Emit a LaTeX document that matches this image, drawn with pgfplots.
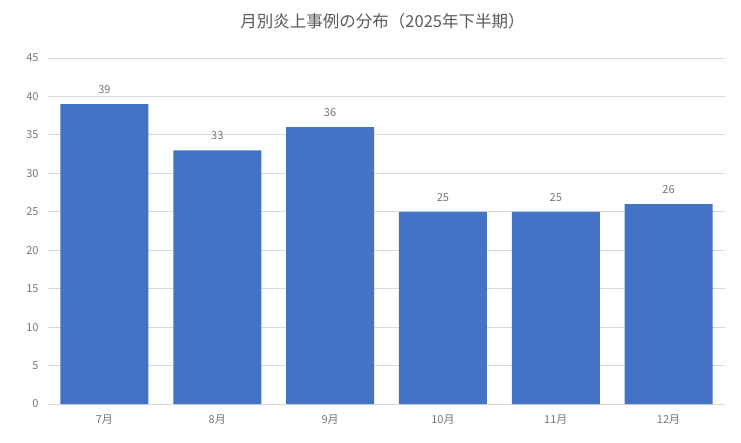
\documentclass[border=0pt]{standalone}
\usepackage{fontspec}
\setmainfont{Noto Sans CJK JP}
\usepackage{pgfplots}
\pgfplotsset{compat=1.18}
\definecolor{barblue}{HTML}{4472C4}
\definecolor{gridgray}{HTML}{D9D9D9}
\definecolor{txtgray}{HTML}{595959}
\definecolor{lblgray}{HTML}{767676}
\begin{document}
\begin{tikzpicture}
\path[use as bounding box] (-48pt,-38pt) rectangle (693pt,404pt);
\begin{axis}[
  at={(0pt,0pt)}, anchor=south west,
  scale only axis, width=677pt, height=346pt,
  ybar, bar width=88pt,
  xmin=-0.5, xmax=5.5, ymin=0, ymax=45,
  ytick={0,5,...,45},
  xtick=data,
  xticklabels={7月,8月,9月,10月,11月,12月},
  axis line style={draw=none},
  axis x line*=bottom, axis y line*=left,
  ymajorgrids, grid style={gridgray, line width=0.8pt},
  major tick length=0pt,
  tick label style={font=\fontsize{11}{12}\selectfont, text=lblgray},
  /pgf/number format/assume math mode=true,
  yticklabel style={xshift=-6pt},
  xticklabel style={yshift=-7pt},
  nodes near coords,
  nodes near coords style={font=\fontsize{11}{12}\selectfont, text=lblgray, yshift=7pt},
  title={月別炎上事例の分布（2025年下半期）},
  title style={at={(0.5,1)}, anchor=center, yshift=31pt, xshift=-4pt,
    font=\fontsize{16.5}{18}\selectfont, text=txtgray},
]
\draw[gridgray, line width=0.8pt] (rel axis cs:0,0) -- (rel axis cs:1,0);
\addplot[fill=barblue, draw=none] coordinates {
(0,39) (1,33) (2,36) (3,25) (4,25) (5,26)
};
\end{axis}
\end{tikzpicture}
\end{document}
